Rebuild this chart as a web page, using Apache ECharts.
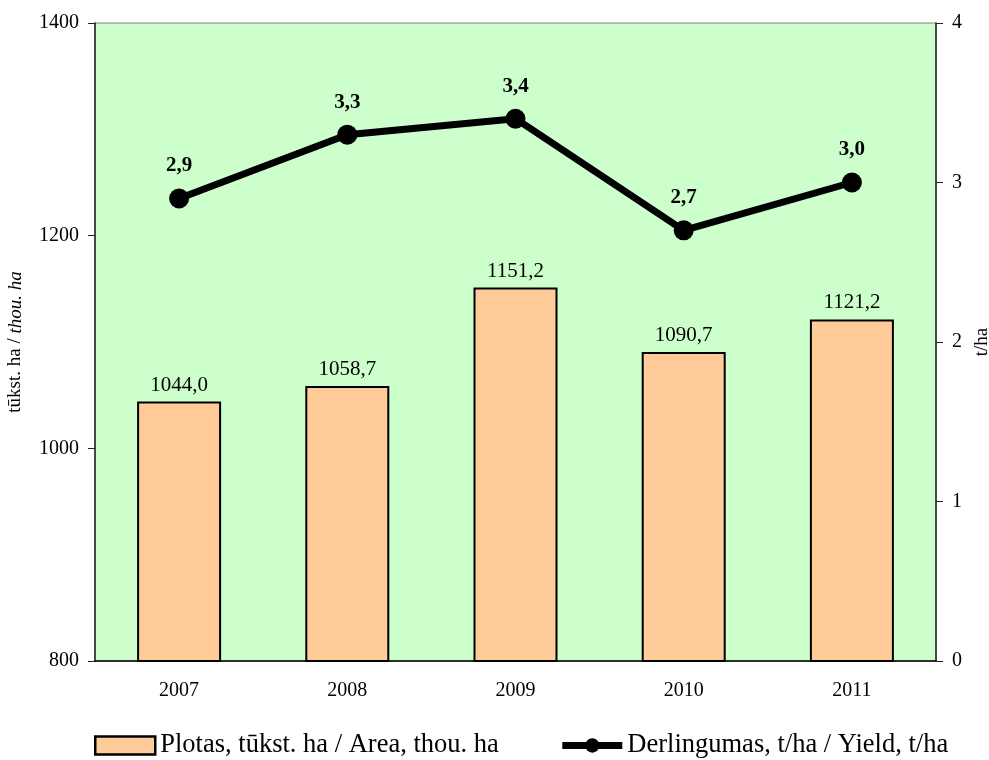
<!DOCTYPE html>
<html>
<head>
<meta charset="utf-8">
<script src="https://cdn.jsdelivr.net/npm/echarts@6/dist/echarts.min.js"></script>
<style>html,body{margin:0;padding:0;background:#fff;}#c{width:989px;height:760px;}</style>
</head>
<body>
<div id="c"></div>
<script>
var categories = ['2007', '2008', '2009', '2010', '2011'];
var areaValues = [1044.0, 1058.7, 1151.2, 1090.7, 1121.2];
var yieldValues = [2.9, 3.3, 3.4, 2.7, 3.0];
var areaName = 'Plotas, tūkst. ha / Area, thou. ha';
var yieldName = 'Derlingumas, t/ha / Yield, t/ha';

var FONT = '"Liberation Serif", "Times New Roman", serif';
function fmt(v, d) { return v.toFixed(d).replace('.', ','); }

var chart = echarts.init(document.getElementById('c'), null, {renderer: 'canvas'});
chart.setOption({
  animation: false,
  textStyle: {fontFamily: FONT, color: '#000'},
  grid: {left: 95, right: 53, top: 23, bottom: 99, containLabel: false, outerBoundsMode: 'none',
    show: true, backgroundColor: '#CCFFCC', borderWidth: 1, borderColor: '#808080'},
  legend: {
    top: 727, left: 89, itemGap: 60, itemWidth: 60, itemHeight: 18,
    textStyle: {fontFamily: FONT, fontSize: 26.5, color: '#000'},
    data: [
      {name: areaName, icon: 'rect', itemStyle: {color: '#FFCC99', borderColor: '#000', borderWidth: 2.5}},
      {name: yieldName, lineStyle: {width: 7, color: '#000'}, itemStyle: {color: '#000'}}
    ]
  },
  xAxis: {
    type: 'category', data: categories,
    axisLine: {lineStyle: {color: '#000', width: 1.5}},
    axisTick: {show: false},
    axisLabel: {fontFamily: FONT, fontSize: 20, color: '#000', margin: 20}
  },
  yAxis: [
    {
      type: 'value', min: 800, max: 1400, interval: 200, position: 'left',
      axisLine: {show: true, lineStyle: {color: '#222', width: 1.5}},
      axisTick: {show: true, length: 7, lineStyle: {color: '#222'}},
      splitLine: {show: false},
      axisLabel: {fontFamily: FONT, fontSize: 20, color: '#000', margin: 16,
        formatter: function (v) { return String(v); }},
      name: '{n|tūkst. ha / }{i|thou. ha}', nameLocation: 'middle', nameGap: 70, nameRotate: 90,
      nameTextStyle: {rich: {n: {fontFamily: FONT, fontSize: 19, color: '#000'}, i: {fontFamily: FONT, fontSize: 19, fontStyle: 'italic', color: '#000'}}}
    },
    {
      type: 'value', min: 0, max: 4, interval: 1, position: 'right',
      axisLine: {show: true, lineStyle: {color: '#222', width: 1.5}},
      axisTick: {show: true, length: 7, lineStyle: {color: '#222'}},
      splitLine: {show: false},
      axisLabel: {fontFamily: FONT, fontSize: 20, color: '#000', margin: 16},
      name: 't/ha', nameLocation: 'middle', nameGap: 34, nameRotate: 90,
      nameTextStyle: {fontFamily: FONT, fontSize: 19, color: '#000'}
    }
  ],
  series: [
    {
      name: areaName, type: 'bar', yAxisIndex: 0, barWidth: 84,
      data: areaValues,
      itemStyle: {color: '#FFCC99', borderColor: '#000', borderWidth: 2},
      label: {show: true, position: 'top', distance: 6, fontFamily: FONT, fontSize: 21, color: '#000',
        formatter: function (p) { return fmt(p.value, 1); }}
    },
    {
      name: yieldName, type: 'line', yAxisIndex: 1,
      data: yieldValues,
      symbol: 'circle', symbolSize: 20,
      lineStyle: {color: '#000', width: 7},
      itemStyle: {color: '#000'},
      label: {show: true, position: 'top', distance: 12, fontFamily: FONT, fontSize: 21, fontWeight: 'bold', color: '#000',
        formatter: function (p) { return fmt(p.value, 1); }}
    }
  ]
});
</script>
</body>
</html>
